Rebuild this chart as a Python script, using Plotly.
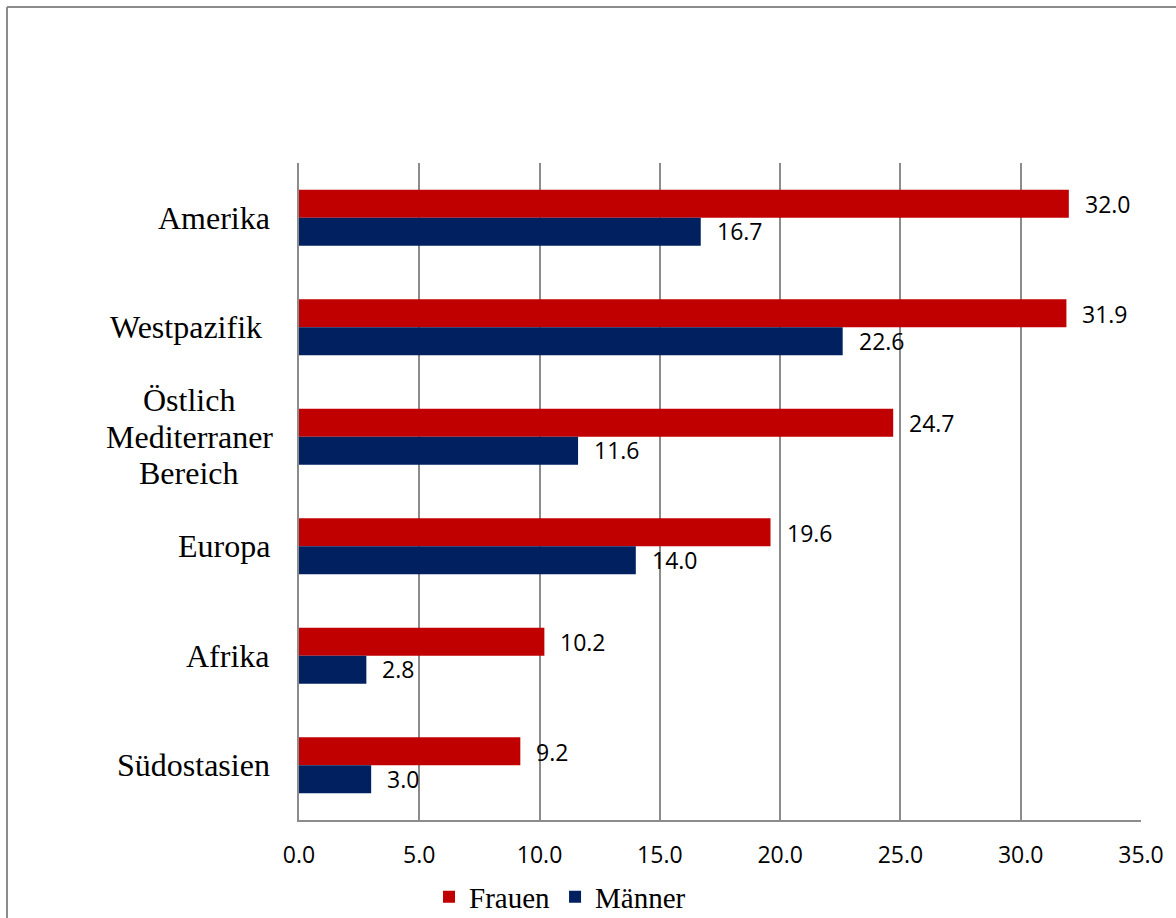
import plotly.graph_objects as go

# Regions (top to bottom) and values per group
regions = ["Amerika", "Westpazifik", "Östlich Mediterraner Bereich", "Europa", "Afrika", "Südostasien"]
region_labels = ["Amerika", "Westpazifik\u00a0", "Östlich<br>Mediterraner<br>Bereich", "Europa", "Afrika", "Südostasien"]
frauen = [32.0, 31.9, 24.7, 19.6, 10.2, 9.2]
maenner = [16.7, 22.6, 11.6, 14.0, 2.8, 3.0]
x_ticks = [0, 5, 10, 15, 20, 25, 30, 35]
x_ticklabels = ["0.0", "5.0", "10.0", "15.0", "20.0", "25.0", "30.0", "35.0"]

RED = "#C00000"
NAVY = "#002060"
GRID = "#8c8c8c"
SERIF = "Liberation Serif"
SANS = "Open Sans"
LABEL_LINE = 36.5  # px between lines of a wrapped category label

fig = go.Figure()
fig.add_trace(go.Bar(y=regions, x=frauen, orientation="h", name="Frauen",
                     marker=dict(color=RED, line=dict(width=0))))
fig.add_trace(go.Bar(y=regions, x=maenner, orientation="h", name="Männer",
                     marker=dict(color=NAVY, line=dict(width=0))))

annotations = []
# category labels, each line centred on the label's middle, left of the axis
for r, lab in zip(regions, region_labels):
    lines = lab.split("<br>")
    n = len(lines)
    for i, line in enumerate(lines):
        shift = ((n - 1) / 2 - i) * LABEL_LINE
        annotations.append(dict(x=0, xref="paper", y=r, yref="y", text=line, showarrow=False,
                                xanchor="right" if n == 1 else "center",
                                yanchor="middle", yshift=shift,
                                xshift=-27 if n == 1 else -110,
                                font=dict(family=SERIF, size=32, color="black")))
# value labels beside each bar end
for r, v in zip(regions, frauen):
    annotations.append(dict(x=v, xref="x", y=r, yref="y", text=f"{v:.1f}", showarrow=False,
                            xanchor="left", yanchor="middle", xshift=14, yshift=13.5,
                            font=dict(family=SANS, size=23, color="black")))
for r, v in zip(regions, maenner):
    annotations.append(dict(x=v, xref="x", y=r, yref="y", text=f"{v:.1f}", showarrow=False,
                            xanchor="left", yanchor="middle", xshift=14, yshift=-13.5,
                            font=dict(family=SANS, size=23, color="black")))

# outer frame of the chart area
frame = dict(color=GRID, width=2)
shapes = [
    dict(type="line", xref="paper", yref="paper", x0=-0.3468, x1=-0.3468, y0=1.2374, y1=-0.3, line=frame),
    dict(type="line", xref="paper", yref="paper", x0=-0.3468, x1=1.2, y0=1.2374, y1=1.2374, line=frame),
]

fig.update_layout(
    width=1176, height=918,
    margin=dict(l=299, r=35, t=163, b=98, autoexpand=False),
    paper_bgcolor="white", plot_bgcolor="white",
    barmode="group", bargap=0.49, bargroupgap=0,
    showlegend=True,
    legend=dict(orientation="h", x=0.31, xanchor="center", y=-0.117, yanchor="middle",
                font=dict(family=SERIF, size=29, color="black"), itemwidth=30,
                traceorder="normal"),
    xaxis=dict(range=[0, 35], tickvals=x_ticks, ticktext=x_ticklabels,
               showgrid=True, gridcolor=GRID, gridwidth=1.5,
               showline=True, linecolor=GRID, linewidth=2,
               zeroline=False, ticks="", ticklabelstandoff=13, automargin=False,
               tickfont=dict(family=SANS, size=23, color="black")),
    yaxis=dict(autorange="reversed", showticklabels=False, showgrid=False, automargin=False,
               showline=True, linecolor=GRID, linewidth=2, ticks="", zeroline=False),
    annotations=annotations,
    shapes=shapes,
)

fig.write_html("out.html")
